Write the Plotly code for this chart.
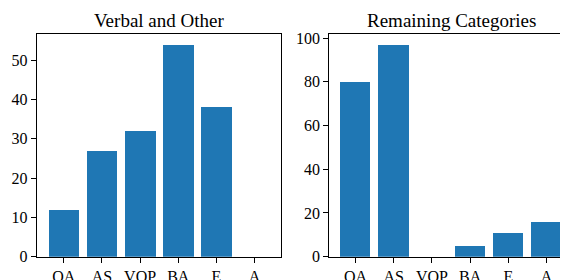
import plotly.graph_objects as go
from plotly.subplots import make_subplots

categories = ["OA", "AS", "VOP", "BA", "E", "A"]
verbal_other = [12, 27, 32, 54, 38, 0]
remaining = [80, 97, 0, 5, 11, 16]
titles = ["Verbal and Other", "Remaining Categories"]

BAR = "#1f77b4"
FONT = "Liberation Serif, Times New Roman, serif"
W, H = 568, 280
OFF = 8  # page body margin

fig = make_subplots(rows=1, cols=2)
xs = list(range(len(categories)))
fig.add_trace(go.Bar(x=xs, y=verbal_other, marker_color=BAR, marker_line_width=0, width=0.8), 1, 1)
fig.add_trace(go.Bar(x=xs, y=remaining, marker_color=BAR, marker_line_width=0, width=0.8), 1, 2)

ytop = 256.7 - OFF
ybot = 34 - OFF
ydom = [(H - ytop) / H, (H - ybot) / H]
d1 = [(36.7 - OFF) / W, (281 - OFF) / W]
d2 = [(329.3 - OFF) / W, (573.3 - OFF) / W]

axis_common = dict(showline=True, linecolor="black", linewidth=1.1, ticks="outside",
                   ticklen=5, tickwidth=1.1, tickcolor="black", showgrid=False, zeroline=False,
                   automargin=False, mirror=True,
                   tickfont=dict(family=FONT, size=16, color="black"))

fig.update_xaxes(**axis_common, tickmode="array", tickvals=xs, ticktext=categories)
fig.update_yaxes(**axis_common)
fig.update_layout(
    xaxis=dict(domain=d1, range=[-0.707, 5.69]),
    yaxis=dict(domain=ydom, range=[0, 54 * 1.05], tickvals=[0, 10, 20, 30, 40, 50]),
    xaxis2=dict(domain=d2, range=[-0.686, 5.70]),
    yaxis2=dict(domain=ydom, range=[0, 97 * 1.05], tickvals=[0, 20, 40, 60, 80, 100]),
    width=W, height=H, margin=dict(l=0, r=0, t=0, b=0, autoexpand=False),
    plot_bgcolor="white", paper_bgcolor="white", showlegend=False, bargap=0,
)
for i, t in enumerate(titles):
    d = d1 if i == 0 else d2
    cx = (d[0] + d[1]) / 2
    fig.add_annotation(text=t, x=cx, y=(H - 25) / H, xref="paper", yref="paper",
                       showarrow=False, xanchor="center", yanchor="bottom",
                       font=dict(family=FONT, size=19, color="black"))

fig.write_html("out.html")
